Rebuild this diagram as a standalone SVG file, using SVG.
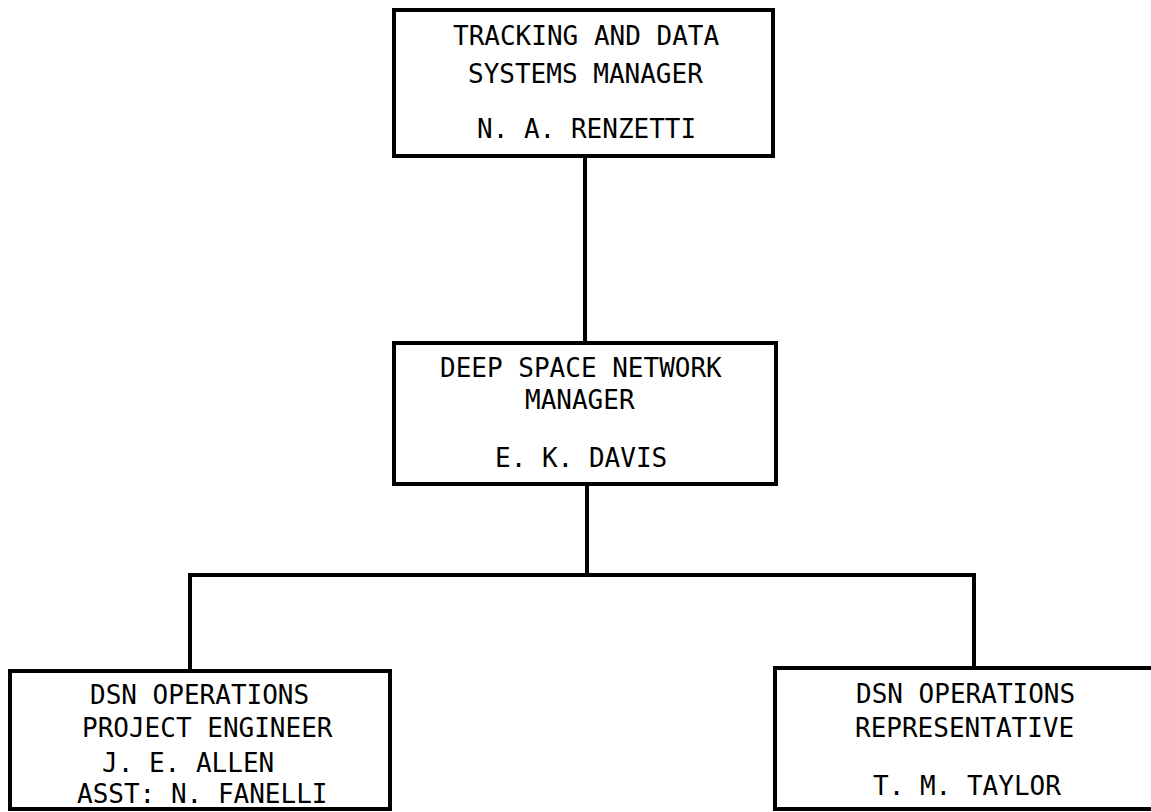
<svg xmlns="http://www.w3.org/2000/svg" width="1151" height="812" viewBox="0 0 1151 812">
<style>
.box{fill:#fff;stroke:#000;stroke-width:4}
.ln{fill:none;stroke:#000;stroke-width:4}
text{font-family:"DejaVu Sans Mono","Liberation Mono",monospace;font-size:26px;fill:#000}
</style>
<rect width="1151" height="812" fill="#fff"/>
<g id="connectors">
<line class="ln" x1="585" y1="156" x2="585" y2="343"/>
<line class="ln" x1="587" y1="484" x2="587" y2="575"/>
<polyline class="ln" points="190,671 190,575 974,575 974,668"/>
</g>
<g id="tds-manager">
<rect class="box" x="394" y="10" width="379" height="146"/>
<text x="453" y="45">TRACKING AND DATA</text>
<text x="468" y="83">SYSTEMS MANAGER</text>
<text x="477" y="138">N. A. RENZETTI</text>
</g>
<g id="dsn-manager">
<rect class="box" x="394" y="343" width="382" height="141"/>
<text x="440" y="377">DEEP SPACE NETWORK</text>
<text x="525" y="409">MANAGER</text>
<text x="495" y="467">E. K. DAVIS</text>
</g>
<g id="ops-engineer">
<rect class="box" x="10" y="671" width="380" height="138"/>
<text x="90" y="704">DSN OPERATIONS</text>
<text x="82" y="737">PROJECT ENGINEER</text>
<text x="102" y="772">J. E. ALLEN</text>
<text x="77" y="803">ASST: N. FANELLI</text>
</g>
<g id="ops-rep">
<path class="box" d="M1153,668 H775 V809 H1153"/>
<text x="856" y="703">DSN OPERATIONS</text>
<text x="855" y="737">REPRESENTATIVE</text>
<text x="873" y="795">T. M. TAYLOR</text>
</g>
</svg>
